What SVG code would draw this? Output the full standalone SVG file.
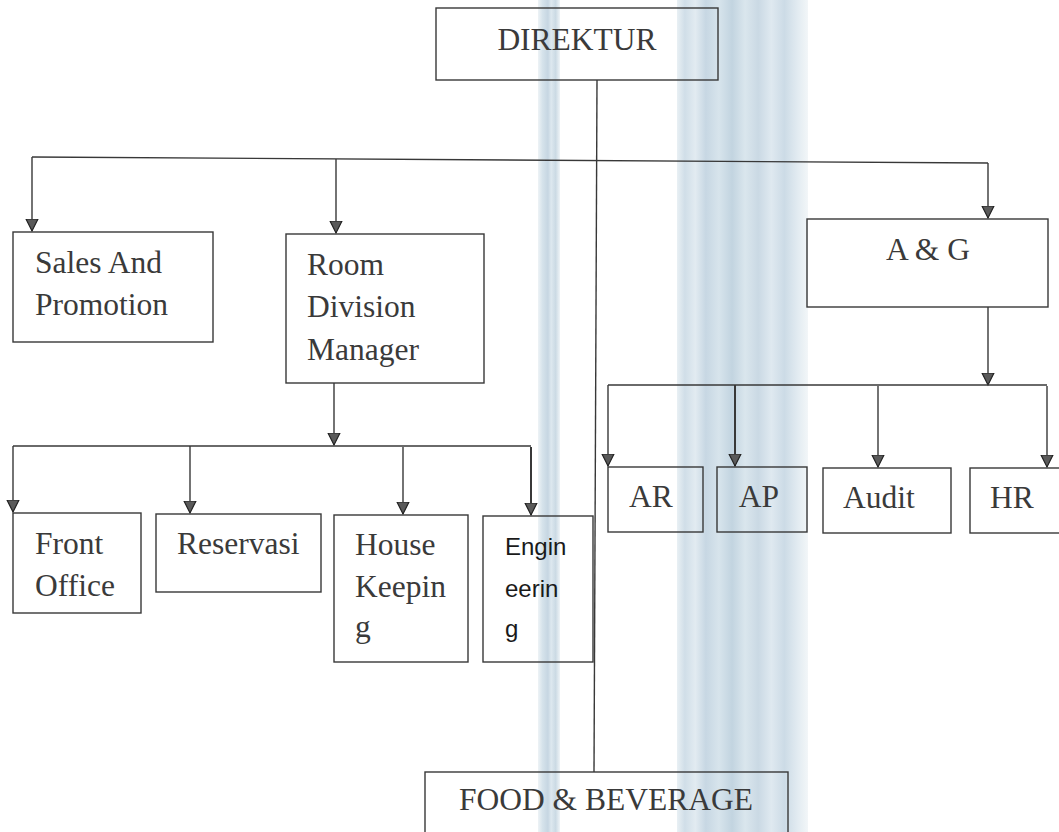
<svg xmlns="http://www.w3.org/2000/svg" width="1059" height="832" viewBox="0 0 1059 832">
<defs>
<style>
.box{fill:none;stroke:#383838;stroke-width:1.4}
.t{font-family:"Liberation Serif","Times New Roman",serif;font-size:31.5px;fill:#3a3a3a}
.s{font-family:"Liberation Sans",Arial,sans-serif;font-size:24px;fill:#1a1a1a}
.c{fill:none;stroke:#383838;stroke-width:1.4}
.a{fill:none;stroke:#383838;stroke-width:1.4;marker-end:url(#arr)}
</style>
<marker id="arr" markerUnits="userSpaceOnUse" markerWidth="14" markerHeight="14" refX="12" refY="6.5" orient="auto" viewBox="0 0 14 13">
<path d="M0,0.5 L12,6.5 L0,12.5 z" fill="#5a5a5a" stroke="#222" stroke-width="1.2"/>
</marker>
<linearGradient id="st1" x1="0" x2="1" y1="0" y2="0">
<stop offset="0" stop-color="#eef3f6"/>
<stop offset="0.2" stop-color="#d6e3eb"/>
<stop offset="0.45" stop-color="#c6d6e2"/>
<stop offset="0.6" stop-color="#dde8ef"/>
<stop offset="0.8" stop-color="#cbdae4"/>
<stop offset="1" stop-color="#eff4f7"/>
</linearGradient>
<linearGradient id="st2" x1="0" x2="1" y1="0" y2="0">
<stop offset="0" stop-color="#e9f0f4"/>
<stop offset="0.06" stop-color="#d0dee8"/>
<stop offset="0.14" stop-color="#e2ebf1"/>
<stop offset="0.22" stop-color="#c7d7e3"/>
<stop offset="0.32" stop-color="#d7e4ec"/>
<stop offset="0.42" stop-color="#c2d4e0"/>
<stop offset="0.52" stop-color="#dae6ed"/>
<stop offset="0.62" stop-color="#cad9e4"/>
<stop offset="0.72" stop-color="#dfe9f0"/>
<stop offset="0.82" stop-color="#ccdbe6"/>
<stop offset="0.92" stop-color="#e2ebf1"/>
<stop offset="1" stop-color="#f2f6f8"/>
</linearGradient>
</defs>
<rect width="1059" height="832" fill="#ffffff"/>
<g id="scan-stripes">
<rect x="538" y="0" width="22" height="832" fill="url(#st1)"/>
<rect x="677" y="0" width="131" height="832" fill="url(#st2)"/>
</g>
<g id="connectors">
<path class="c" d="M32,157 L988,163"/>
<path class="a" d="M32,157 V231"/>
<path class="a" d="M336,159 V233"/>
<path class="a" d="M988,163 V218"/>
<path class="c" d="M597,80 L594,772"/>
<path class="a" d="M334,383 V445"/>
<path class="c" d="M13,446 H531"/>
<path class="a" d="M13,446 V512"/>
<path class="a" d="M190,446 V513"/>
<path class="a" d="M403,447 V514"/>
<path class="a" d="M531,447 V515" style="stroke-width:2"/>
<path class="a" d="M988,307 V385"/>
<path class="c" d="M608,385 H1047"/>
<path class="a" d="M608,385 V466"/>
<path class="a" d="M735,385 V466" style="stroke-width:2"/>
<path class="a" d="M878,386 V467"/>
<path class="a" d="M1047,386 V467"/>
</g>
<g id="direktur">
<rect class="box" x="436" y="8" width="282" height="72"/>
<text class="t" x="577" y="50" text-anchor="middle">DIREKTUR</text>
</g>
<g id="sales">
<rect class="box" x="13" y="232" width="200" height="110"/>
<text class="t" x="35" y="273">Sales And</text>
<text class="t" x="35" y="315">Promotion</text>
</g>
<g id="room-division">
<rect class="box" x="286" y="234" width="198" height="149"/>
<text class="t" x="307" y="275">Room</text>
<text class="t" x="307" y="317">Division</text>
<text class="t" x="307" y="360">Manager</text>
</g>
<g id="ag">
<rect class="box" x="807" y="219" width="241" height="88"/>
<text class="t" x="928" y="260" text-anchor="middle">A &amp; G</text>
</g>
<g id="front-office">
<rect class="box" x="13" y="513" width="128" height="100"/>
<text class="t" x="35" y="554">Front</text>
<text class="t" x="35" y="596">Office</text>
</g>
<g id="reservasi">
<rect class="box" x="156" y="514" width="165" height="78"/>
<text class="t" x="177" y="554">Reservasi</text>
</g>
<g id="housekeeping">
<rect class="box" x="334" y="515" width="134" height="147"/>
<text class="t" x="355" y="555">House</text>
<text class="t" x="355" y="597">Keepin</text>
<text class="t" x="355" y="637">g</text>
</g>
<g id="engineering">
<rect class="box" x="483" y="516" width="110" height="146"/>
<text class="s" x="505" y="555">Engin</text>
<text class="s" x="505" y="597">eerin</text>
<text class="s" x="505" y="637">g</text>
</g>
<g id="ar">
<rect class="box" x="608" y="467" width="95" height="65"/>
<text class="t" x="651" y="507" text-anchor="middle">AR</text>
</g>
<g id="ap">
<rect class="box" x="717" y="467" width="90" height="65"/>
<text class="t" x="759" y="507" text-anchor="middle">AP</text>
</g>
<g id="audit">
<rect class="box" x="823" y="468" width="128" height="65"/>
<text class="t" x="879" y="508" text-anchor="middle">Audit</text>
</g>
<g id="hr">
<rect class="box" x="970" y="468" width="100" height="65"/>
<text class="t" x="1012" y="508" text-anchor="middle">HR</text>
</g>
<g id="food-beverage">
<rect class="box" x="425" y="772" width="363" height="80"/>
<text class="t" x="606" y="810" text-anchor="middle">FOOD &amp; BEVERAGE</text>
</g>
</svg>
